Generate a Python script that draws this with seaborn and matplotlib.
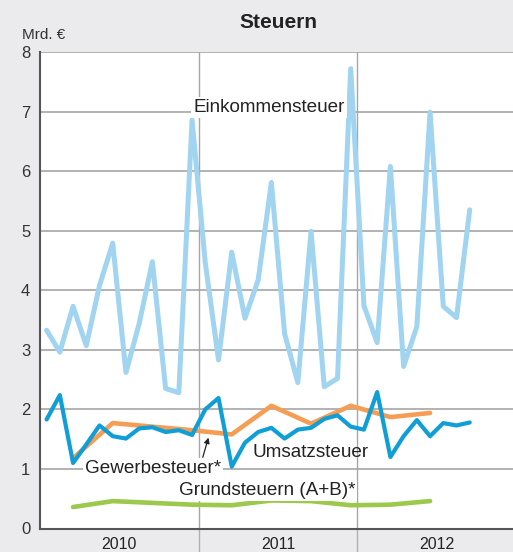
import numpy as np
import pandas as pd
import matplotlib
matplotlib.use("Agg")
import matplotlib.pyplot as plt
import seaborn as sns

# Monthly tax revenue, Jan 2010 onward (billion EUR)
einkommensteuer = [3.33, 2.96, 3.73, 3.07, 4.08, 4.79, 2.62, 3.44, 4.48, 2.35, 2.28, 6.86,
                   4.46, 2.83, 4.64, 3.53, 4.17, 5.81, 3.27, 2.45, 4.99, 2.38, 2.52, 7.72,
                   3.74, 3.12, 6.08, 2.72, 3.39, 6.99, 3.73, 3.54, 5.35]
umsatzsteuer = [1.83, 2.24, 1.10, 1.41, 1.73, 1.55, 1.51, 1.68, 1.70, 1.62, 1.65, 1.57,
                2.00, 2.19, 1.04, 1.44, 1.62, 1.69, 1.51, 1.66, 1.69, 1.84, 1.90, 1.71,
                1.66, 2.29, 1.20, 1.55, 1.82, 1.55, 1.77, 1.73, 1.78]
# Quarterly series, plotted at the last month of each quarter
quarter_month = [2, 5, 8, 11, 14, 17, 20, 23, 26, 29]
gewerbesteuer = [1.18, 1.77, 1.71, 1.65, 1.58, 2.06, 1.76, 2.06, 1.87, 1.94]
grundsteuern = [0.36, 0.46, 0.43, 0.40, 0.39, 0.47, 0.46, 0.39, 0.40, 0.46]

years = ["2010", "2011", "2012"]
y_ticks = [0, 1, 2, 3, 4, 5, 6, 7, 8]

sns.set_style("white")
plt.rcParams["font.family"] = ["Liberation Sans", "DejaVu Sans"]

BG = "#ebebed"
GRID = "#a6a6a6"
SPINE = "#555555"
INK = "#222222"

W, H = 513, 552
fig = plt.figure(figsize=(W / 100, H / 100), dpi=100, facecolor=BG)
ax_left, ax_right, ax_top, ax_bottom = 40, 516, 52, 528.5
ax = fig.add_axes([ax_left / W, 1 - ax_bottom / H, (ax_right - ax_left) / W, (ax_bottom - ax_top) / H])
ax.set_facecolor("white")

months = np.arange(len(einkommensteuer)) + 0.5
monthly = pd.DataFrame({"m": months, "est": einkommensteuer, "ust": umsatzsteuer})
quarterly = pd.DataFrame({"m": np.array(quarter_month) + 0.5, "gew": gewerbesteuer, "grund": grundsteuern})

sns.lineplot(data=monthly, x="m", y="est", ax=ax, color="#a0d4f0", lw=3.6, zorder=3)
sns.lineplot(data=quarterly, x="m", y="grund", ax=ax, color="#9cc84b", lw=3.3, zorder=3)
sns.lineplot(data=quarterly, x="m", y="gew", ax=ax, color="#f59d55", lw=3.3, zorder=3)
sns.lineplot(data=monthly, x="m", y="ust", ax=ax, color="#0f9fd6", lw=3.0, zorder=4)

ax.set_xlim(0, 36)
ax.set_ylim(0, 8)
ax.set_xlabel("")
ax.set_ylabel("")

# horizontal grid
for v in y_ticks[1:]:
    ax.axhline(v, color=GRID, lw=1.2, zorder=1)
# year separators, running down through the year labels
for b in (12, 24):
    ax.axvline(b, color=GRID, lw=1.0, zorder=1)
    ax.plot([b, b], [0, -0.42], color="#b0b0b0", lw=1.0, clip_on=False, zorder=1)

ax.set_yticks(y_ticks)
ax.set_yticklabels([str(v) for v in y_ticks], fontsize=12, color="#333333")
ax.tick_params(axis="y", length=0, pad=7)
ax.set_xticks(np.arange(1, 36), minor=True)
ax.set_xticks([])
ax.tick_params(axis="x", which="minor", direction="in", length=4, width=0.9, color=SPINE)

for s in ("top", "right"):
    ax.spines[s].set_visible(False)
for s in ("left", "bottom"):
    ax.spines[s].set_color(SPINE)
    ax.spines[s].set_linewidth(1.5)
ax.spines["bottom"].set_zorder(5)

for i, yr in enumerate(years):
    ax.text(i * 12 + 6, -0.15, yr, ha="center", va="top", fontsize=11.5, color=INK)

box = dict(facecolor="white", edgecolor="none", pad=1.5)
LBL = 13.6
ax.text(11.6, 7.07, "Einkommensteuer", fontsize=LBL, color=INK, ha="left", va="center",
        bbox=box, zorder=6)
ax.text(3.4, 1.0, "Gewerbesteuer*", fontsize=LBL, color=INK, ha="left", va="center",
        bbox=box, zorder=6)
ax.text(16.1, 1.27, "Umsatzsteuer", fontsize=LBL, color=INK, ha="left", va="center",
        zorder=6)
ax.text(10.5, 0.64, "Grundsteuern (A+B)*", fontsize=LBL, color=INK, ha="left", va="center",
        bbox=box, zorder=6)
ax.annotate("", xy=(12.8, 1.57), xytext=(12.25, 1.15),
            arrowprops=dict(arrowstyle="-|>", color=INK, lw=0.9, mutation_scale=8),
            zorder=6)

fig.text(278 / W, 1 - 22 / H, "Steuern", ha="center", va="center", fontsize=15,
         fontweight="bold", color=INK)
fig.text(22 / W, 1 - 35 / H, "Mrd. €", ha="left", va="center", fontsize=11, color="#333333")

fig.savefig("out.png", dpi=100, facecolor=BG)
